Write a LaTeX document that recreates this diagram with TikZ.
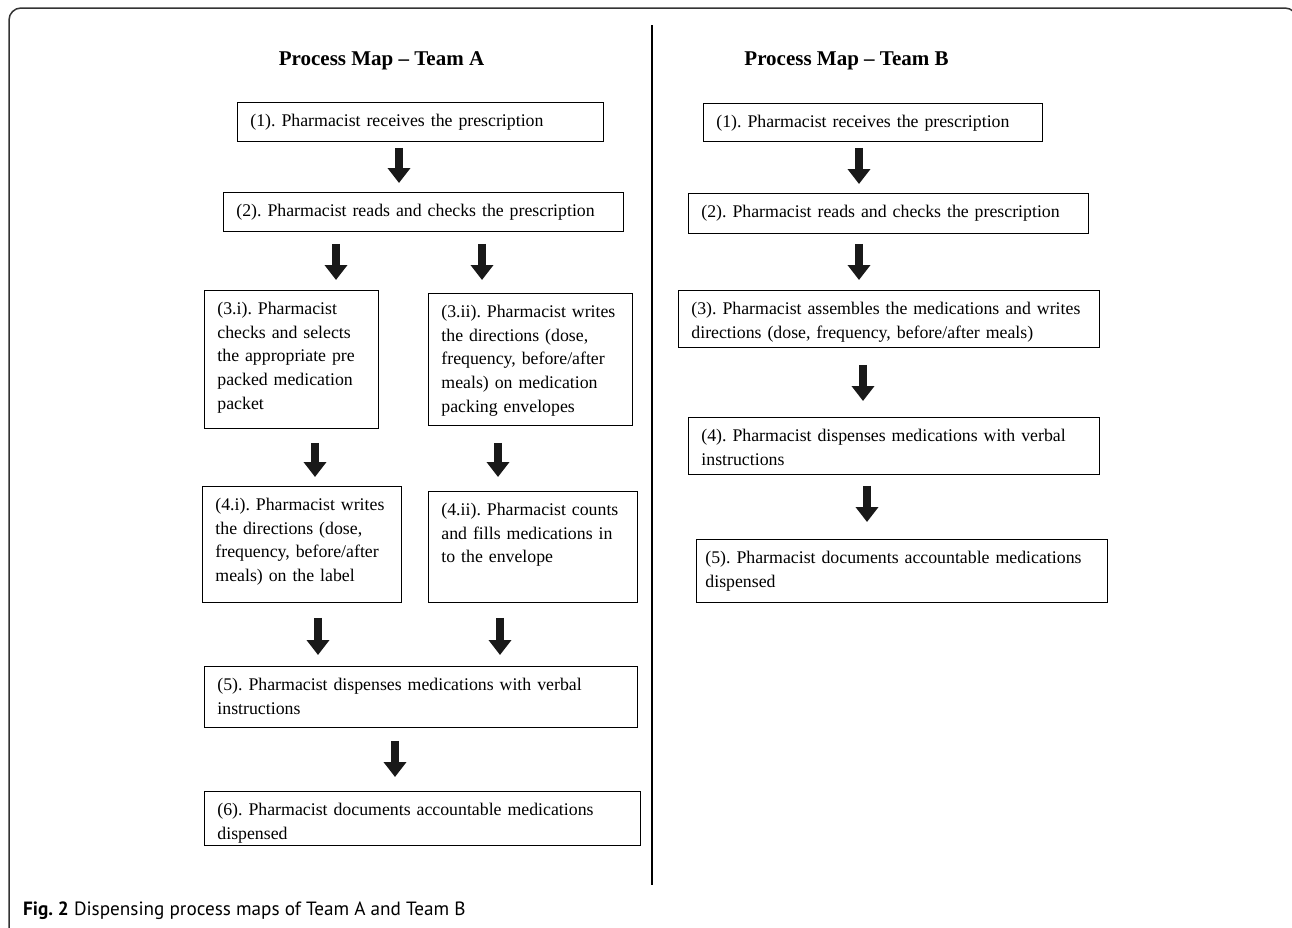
\documentclass[tikz,border=0pt]{standalone}
\usepackage{fontspec}
\setmainfont{Liberation Serif}
\newfontfamily\capfont{PT Sans}
\usetikzlibrary{arrows.meta}
\frenchspacing

\begin{document}
\begin{tikzpicture}[x=1pt, y=-1pt,
				box/.style={draw, line width=0.8pt, anchor=north west, align=left, inner xsep=13pt, inner ysep=0pt, text height=24pt, font=\fontsize{17.8}{23.7}\selectfont},
				title/.style={anchor=base, font=\bfseries\fontsize{21}{24}\selectfont},
				flow/.style={line width=8pt, black!90, -{Triangle[width=22pt, length=15pt]}}
				]
				\useasboundingbox (0,0) rectangle (1292,927);
				
				% outer frame and divider
				\draw[line width=1.5pt, black!80, rounded corners=12pt] (9,940) |- (1297,8) -- (1297,940);
				\draw[line width=1.8pt] (652,25) -- (652,885);
				
				% Team A
				\node[title] (titleA) at (381.5,65) {Process Map -- Team A};
				
				\node[box, text width=340pt, text depth=15pt] (a1) at (237,102) {(1). Pharmacist receives the prescription};
				\node[box, text width=374pt, text depth=15pt] (a2) at (223,192) {(2). Pharmacist reads and checks the prescription};
				\node[box, text width=148pt, text depth=114pt] (a3i) at (204,290) {(3.i). Pharmacist\\checks and selects\\the appropriate pre\\packed medication\\packet};
				\node[box, text width=178pt, text depth=108pt] (a3ii) at (428,293) {(3.ii). Pharmacist writes\\the directions (dose,\\frequency, before/after\\meals) on medication\\packing envelopes};
				\node[box, text width=173pt, text depth=92pt] (a4i) at (202,486) {(4.i). Pharmacist writes\\the directions (dose,\\frequency, before/after\\meals) on the label};
				\node[box, text width=183pt, text depth=87pt] (a4ii) at (428,491) {(4.ii). Pharmacist counts\\and fills medications in\\to the envelope};
				\node[box, text width=407pt, text depth=37pt] (a5) at (204,666) {(5). Pharmacist dispenses medications with verbal\\instructions};
				\node[box, text width=410pt, text depth=30pt] (a6) at (204,791) {(6). Pharmacist documents accountable medications\\dispensed};
				
				\draw[flow, shorten <=6pt, shorten >=9pt] (a1.south -| 399,0) -- (a2.north -| 399,0);
				\draw[flow, shorten <=12pt, shorten >=10pt] (a2.south -| 336,0) -- (a3i.north -| 336,0);
				\draw[flow, shorten <=12pt, shorten >=13pt] (a2.south -| 482,0) -- (a3ii.north -| 482,0);
				\draw[flow, shorten <=14pt, shorten >=9pt] (a3i.south -| 315,0) -- (a4i.north -| 315,0);
				\draw[flow, shorten <=17pt, shorten >=14pt] (a3ii.south -| 498,0) -- (a4ii.north -| 498,0);
				\draw[flow, shorten <=15pt, shorten >=11pt] (a4i.south -| 318,0) -- (a5.north -| 318,0);
				\draw[flow, shorten <=15pt, shorten >=11pt] (a4ii.south -| 500,0) -- (a5.north -| 500,0);
				\draw[flow, shorten <=13pt, shorten >=14pt] (a5.south -| 395,0) -- (a6.north -| 395,0);
				
				% Team B
				\node[title] (titleB) at (846.5,65) {Process Map -- Team B};
				
				\node[box, text width=313pt, text depth=14pt] (b1) at (703,103) {(1). Pharmacist receives the prescription};
				\node[box, text width=374pt, text depth=16pt] (b2) at (688,193) {(2). Pharmacist reads and checks the prescription};
				\node[box, text width=395pt, text depth=33pt] (b3) at (678,290) {(3). Pharmacist assembles the medications and writes\\directions (dose, frequency, before/after meals)};
				\node[box, text width=385pt, text depth=33pt] (b4) at (688,417) {(4). Pharmacist dispenses medications with verbal\\instructions};
				\node[box, inner xsep=9pt, text width=393pt, text depth=39pt] (b5) at (696,539) {(5). Pharmacist documents accountable medications\\dispensed};
				
				\draw[flow, shorten <=6pt, shorten >=9pt] (b1.south -| 859,0) -- (b2.north -| 859,0);
				\draw[flow, shorten <=10pt, shorten >=10pt] (b2.south -| 859,0) -- (b3.north -| 859,0);
				\draw[flow, shorten <=17pt, shorten >=16pt] (b3.south -| 863,0) -- (b4.north -| 863,0);
				\draw[flow, shorten <=11pt, shorten >=17pt] (b4.south -| 867,0) -- (b5.north -| 867,0);
				
				% caption
				\node[anchor=base west, inner sep=0pt, font=\capfont\fontsize{19.2}{22}\selectfont] (caption) at (23,915) {\textbf{Fig. 2} Dispensing process maps of Team A and Team B};
			\end{tikzpicture}
\end{document}
